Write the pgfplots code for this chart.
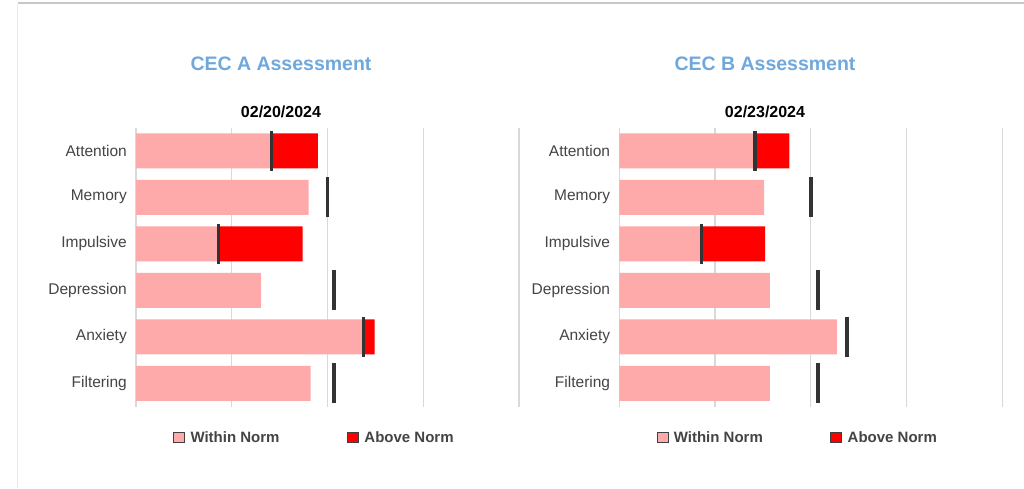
\documentclass[border=0pt]{standalone}
\usepackage{fontspec}
\setmainfont{Liberation Sans}
\usepackage{pgfplots}
\pgfplotsset{compat=1.18}
\definecolor{pinkbar}{RGB}{255,170,170}
\definecolor{redbar}{RGB}{255,0,0}
\definecolor{markc}{RGB}{51,51,51}
\definecolor{titleblue}{RGB}{111,168,220}
\definecolor{labgray}{RGB}{68,68,68}
\definecolor{gridc}{RGB}{217,217,217}
\pgfplotsset{
 cecaxis/.style={
  scale only axis, width=383pt, height=279pt,
  xbar stacked, bar width=35pt,
  xmin=0, xmax=100, ymin=-0.5, ymax=5.5, y dir=reverse,
  enlargelimits=false,
  xtick={0,25,50,75,100}, xticklabels={},
  xmajorgrids, major grid style={line width=1.3pt, gridc},
  ytick={0,...,5}, yticklabels={Attention,Memory,Impulsive,Depression,Anxiety,Filtering},
  yticklabel style={font=\fontsize{15.5}{18}\selectfont, text=labgray, inner sep=0pt, xshift=-9pt},
  major tick length=0pt, tick style={draw=none},
  axis line style={draw=none},
  legend style={draw=none, fill=none, at={(0.0888,-0.112)}, anchor=west, legend columns=2,
    font=\bfseries\fontsize{15}{18}\selectfont, text=labgray, nodes={inner sep=0pt},
    /tikz/every odd column/.append style={column sep=5.3pt},
    /tikz/every even column/.append style={column sep=67.6pt}},
  legend image code/.code={\draw[#1, draw=black!75, line width=1pt] (0pt,-5.2pt) rectangle (11pt,5.2pt);},
 },
 normmark/.style={stack plots=false, only marks, mark=|, mark size=20pt,
   mark options={line width=3.6pt, draw=markc}, forget plot},
}
\begin{document}
\begin{tikzpicture}
\useasboundingbox (0,0) rectangle (1024pt,488pt);
\fill[white] (0,0) rectangle (1024pt,488pt);
\draw[color=black!22, line width=2pt] (18pt,484.5pt) -- (1024pt,484.5pt);
\draw[color=black!8, line width=1pt] (17.5pt,0pt) -- (17.5pt,483.5pt);

\node[anchor=base, font=\bfseries\fontsize{19.5}{23}\selectfont, text=titleblue] at (281pt,417pt) {CEC A Assessment};
\node[anchor=base, font=\bfseries\fontsize{16}{18}\selectfont] at (281pt,370pt) {02/20/2024};
\node[anchor=base, font=\bfseries\fontsize{19.5}{23}\selectfont, text=titleblue] at (765pt,417pt) {CEC B Assessment};
\node[anchor=base, font=\bfseries\fontsize{16}{18}\selectfont] at (765pt,370pt) {02/23/2024};

\begin{axis}[cecaxis, at={(136pt,81.5pt)}, anchor=south west]
\addplot[fill=pinkbar, draw=none] coordinates {(35.4,0) (45.1,1) (21.5,2) (32.6,3) (59.4,4) (45.6,5)};
\addlegendentry{Within Norm}
\addplot[fill=redbar, draw=none] coordinates {(12.1,0) (0,1) (22.0,2) (0,3) (2.9,4) (0,5)};
\addlegendentry{Above Norm}
\addplot[normmark] coordinates {(35.4,0) (50.0,1) (21.5,2) (51.7,3) (59.4,4) (51.7,5)};
\end{axis}

\begin{axis}[cecaxis, at={(619.3pt,81.5pt)}, anchor=south west]
\addplot[fill=pinkbar, draw=none] coordinates {(35.5,0) (37.8,1) (21.5,2) (39.3,3) (56.8,4) (39.3,5)};
\addlegendentry{Within Norm}
\addplot[fill=redbar, draw=none] coordinates {(8.9,0) (0,1) (16.6,2) (0,3) (0,4) (0,5)};
\addlegendentry{Above Norm}
\addplot[normmark] coordinates {(35.5,0) (50.0,1) (21.5,2) (51.8,3) (59.4,4) (51.8,5)};
\end{axis}
\end{tikzpicture}
\end{document}
